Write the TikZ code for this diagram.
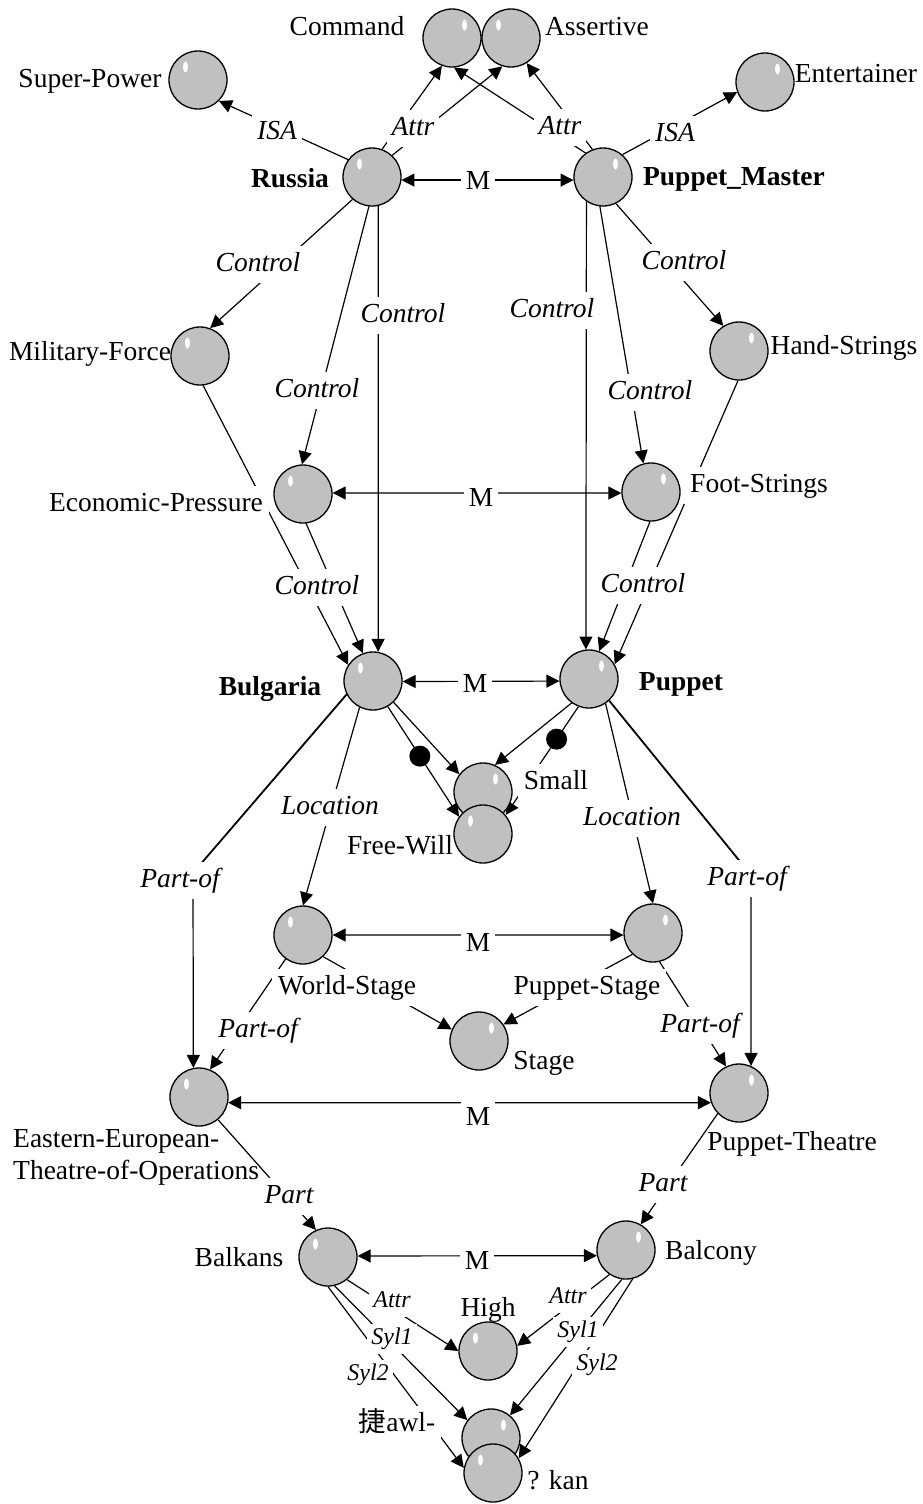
\documentclass[tikz,border=0pt]{standalone}
\usepackage{fontspec}
\setmainfont{Liberation Serif}
\newfontfamily\cjkfont{Noto Sans CJK SC}
\usetikzlibrary{arrows.meta}
\definecolor{ballgray}{RGB}{192,192,192}
\pgfdeclarelayer{edgelayer}
\pgfdeclarelayer{textlayer}
\pgfsetlayers{edgelayer,textlayer,main}

\tikzset{
  ball/.style={circle, draw=black, line width=1.3pt, fill=ballgray,
    minimum size=58pt, inner sep=0pt},
  conn/.style={line width=1.2pt, -{Triangle[length=13pt,width=13pt]}},
  mconn/.style={line width=1.2pt,
    {Triangle[length=13pt,width=13pt]}-{Triangle[length=13pt,width=13pt]}},
  heavy/.style={line width=1.8pt},
  blob/.style={circle, fill=black, minimum size=21pt, inner sep=0pt},
  bigfont/.style={font=\fontsize{27.5}{32}\selectfont},
  tname/.style={bigfont, text height=19pt, text depth=6pt, inner sep=0pt, yshift=-2.5pt},
  tnamew/.style={tname, fill=white, inner xsep=6pt, inner ysep=6pt},
  bname/.style={tname, font=\fontsize{27.5}{32}\selectfont\bfseries},
  elabel/.style={fill=white, font=\fontsize{27.5}{32}\selectfont\itshape,
    text height=19pt, text depth=6pt, inner xsep=5pt, inner ysep=6pt, yshift=-2.5pt},
  mlabel/.style={elabel, font=\fontsize{27.5}{32}\selectfont},
  slabel/.style={fill=white, font=\fontsize{24}{28}\selectfont\itshape,
    text height=16.5pt, text depth=5pt, inner xsep=4pt, inner ysep=4.5pt, yshift=-2pt},
}

% a grey sphere with its small white highlight (side: -1 left, +1 right)
\newcommand{\drawball}[4]{%
  \node[ball] (#1) at (#2,#3) {};
  \fill[white] ([shift={(#4*12.5,-13)}]#1.center) ellipse [x radius=2.5pt, y radius=5.5pt];
}

\begin{document}
\begin{tikzpicture}[x=1pt, y=-1pt]
\useasboundingbox (0,0) rectangle (923,1504);

% ---------- concepts ----------
\drawball{superpower}{198}{80}{-1}
\drawball{command}{452}{38}{1}
\drawball{assertive}{511}{38}{-1}
\drawball{entertainer}{765}{82}{1}
\drawball{russia}{372}{177}{-1}
\drawball{pm}{603}{177}{1}
\drawball{mf}{200}{356}{-1}
\drawball{hs}{739}{351}{1}
\drawball{ep}{303}{494}{-1}
\drawball{fs}{651}{492}{1}
\drawball{bulgaria}{373}{681}{-1}
\drawball{puppet}{589}{679}{1}
\drawball{small}{483}{792}{1}
\drawball{freewill}{483}{834}{-1}
\drawball{ws}{303}{935}{-1}
\drawball{ps}{653}{933}{1}
\drawball{stage}{479}{1041}{1}
\drawball{eastern}{199}{1097}{-1}
\drawball{pt}{739}{1093}{1}
\drawball{balkans}{328}{1257}{-1}
\drawball{balcony}{626}{1250}{1}
\drawball{high}{488}{1351}{-1}
\drawball{awl}{491}{1438}{1}
\drawball{kan}{493}{1473}{-1}

\coordinate (bendL) at (193,873);
\coordinate (bendR) at (751,875);

% ---------- relations ----------
\begin{pgfonlayer}{edgelayer}
\draw[conn] (russia.144) -- (superpower.-45);
\draw[conn] (pm.49) -- (entertainer.-160);
\draw[conn] (russia.70) -- (command.-110);
\draw[conn] (russia.47) -- (assertive.-107);
\draw[conn] (pm.126) -- (command.-86);
\draw[conn] (pm.111) -- (assertive.-58);
\draw[mconn] (russia.-6) -- (pm.186);

\draw[conn] (russia.-131) -- (mf.70);
\draw[conn] (russia.-96) -- (ep.92);
\draw[conn] (russia.-78) -- (bulgaria.80);
\draw[conn] (pm.-124) -- (puppet.96);
\draw[conn] (pm.-96) -- (fs.105);
\draw[conn] (pm.-64) -- (hs.122);
\draw[mconn] (ep.2) -- (fs.182);

\draw[conn] (mf.-84) -- (bulgaria.147);
\draw[conn] (ep.-84) -- (bulgaria.110);
\draw[conn] (hs.-92) -- (puppet.30);
\draw[conn] (fs.-92) -- (puppet.70);
\draw[mconn] (bulgaria.-1) -- (puppet.184);

\draw[conn] (bulgaria.-46) -- (small.143);
\draw[conn] (bulgaria.-60) -- node[blob, pos=0.45] (dotL) {} (freewill.144);
\draw[conn] (puppet.-126) -- (small.66);
\draw[conn] (puppet.-111) -- node[blob, pos=0.3] (dotR) {} (freewill.40);

\draw[conn] (bulgaria.-117) -- (ws.90);
\draw[conn] (puppet.-56) -- (ps.90);
\draw[heavy] (bulgaria.-153) -- (bendL);
\draw[conn] (bendL) -- (eastern.101);
\draw[heavy] (puppet.-47) -- (bendR);
\draw[conn] (bendR) -- (pt.66);

\draw[mconn] (ws.0) -- (ps.184);
\draw[conn] (ws.-47) -- (stage.157);
\draw[conn] (ps.-134) -- (stage.34);
\draw[conn] (ws.-126) -- (eastern.68);
\draw[conn] (ps.-77) -- (pt.116);
\draw[mconn] (eastern.-11) -- (pt.199);

\draw[conn] (eastern.-50) -- (balkans.114);
\draw[conn] (pt.-136) -- (balcony.60);
\draw[mconn] (balkans.2) -- (balcony.191);

\draw[conn] (balkans.-50) -- (high.180);
\draw[conn] (balkans.-77) -- (awl.143);
\draw[conn] (balkans.-90) -- (kan.170);
\draw[conn] (balcony.-124) -- (high.10);
\draw[conn] (balcony.-98) -- (awl.50);
\draw[conn] (balcony.-77) -- (kan.30);
\end{pgfonlayer}

% ---------- texts ----------
\begin{pgfonlayer}{textlayer}
% concept names
\node[tname] (tcommand) at (347,27) {Command};
\node[tname] (tassertive) at (597,27) {Assertive};
\node[tname] (tsuperpower) at (90,78) {Super-Power};
\node[tname] (tentertainer) at (856,73) {Entertainer};
\node[bname] (trussia) at (290,178) {Russia};
\node[bname] (tpm) at (734,176) {Puppet\_Master};
\node[tname] (tmf) at (90,351) {Military-Force};
\node[tnamew] (tep) at (156,502) {Economic-Pressure};
\node[tname] (ths) at (844,345) {Hand-Strings};
\node[tnamew] (tfs) at (759,483) {Foot-Strings};
\node[bname] (tbulgaria) at (270,686) {Bulgaria};
\node[bname] (tpuppet) at (681,681) {Puppet};
\node[tnamew] (tsmall) at (556,780) {Small};
\node[tname] (tfreewill) at (400,845) {Free-Will};
\node[tnamew] (tws) at (347,985) {World-Stage};
\node[tnamew] (tps) at (587,985) {Puppet-Stage};
\node[tname] (tstage) at (544,1060) {Stage};
\node[bigfont, align=left, anchor=west, inner sep=0pt] (teastern) at (13,1157)
  {Eastern-European-\\Theatre-of-Operations};
\node[tname] (tpt) at (792,1141) {Puppet-Theatre};
\node[tname] (tbalkans) at (239,1257) {Balkans};
\node[tname] (tbalcony) at (711,1250) {Balcony};
\node[tname] (thigh) at (488,1307) {High};
\node[tnamew] (tawl) at (397,1422) {{\cjkfont 捷}awl-};
\node[tname] (tkan) at (558,1480) {? kan};

% relation labels
\node[elabel] (lisaL) at (277,130) {ISA};
\node[elabel] (lisaR) at (675,132) {ISA};
\node[elabel] (lattrL) at (413,126) {Attr};
\node[elabel] (lattrR) at (560,125) {Attr};
\node[elabel] (lc1) at (258,262) {Control};
\node[elabel] (lc2) at (317,388) {Control};
\node[elabel] (lc3) at (403,313) {Control};
\node[elabel] (lc4) at (552,308) {Control};
\node[elabel] (lc5) at (650,390) {Control};
\node[elabel] (lc6) at (684,260) {Control};
\node[elabel] (lc7) at (317,585) {Control};
\node[elabel] (lc8) at (643,583) {Control};
\node[mlabel] (lm1) at (478,180) {M};
\node[mlabel] (lm2) at (481,497) {M};
\node[mlabel] (lm3) at (475,683) {M};
\node[mlabel] (lm4) at (478,942) {M};
\node[mlabel] (lm5) at (478,1116) {M};
\node[mlabel] (lm6) at (477,1260) {M};
\node[elabel] (llocL) at (330,805) {Location};
\node[elabel] (llocR) at (632,816) {Location};
\node[elabel] (lpo1) at (180,878) {Part-of};
\node[elabel] (lpo2) at (747,876) {Part-of};
\node[elabel] (lpo3) at (258,1028) {Part-of};
\node[elabel] (lpo4) at (700,1023) {Part-of};
\node[elabel] (lpartL) at (289,1194) {Part};
\node[elabel] (lpartR) at (663,1182) {Part};
\node[slabel] (lsattrL) at (392,1300) {Attr};
\node[slabel] (lsyl1L) at (392,1337) {Syl1};
\node[slabel] (lsyl2L) at (368,1373) {Syl2};
\node[slabel] (lsattrR) at (568,1296) {Attr};
\node[slabel] (lsyl1R) at (578,1330) {Syl1};
\node[slabel] (lsyl2R) at (597,1363) {Syl2};
\end{pgfonlayer}
\end{tikzpicture}
\end{document}
